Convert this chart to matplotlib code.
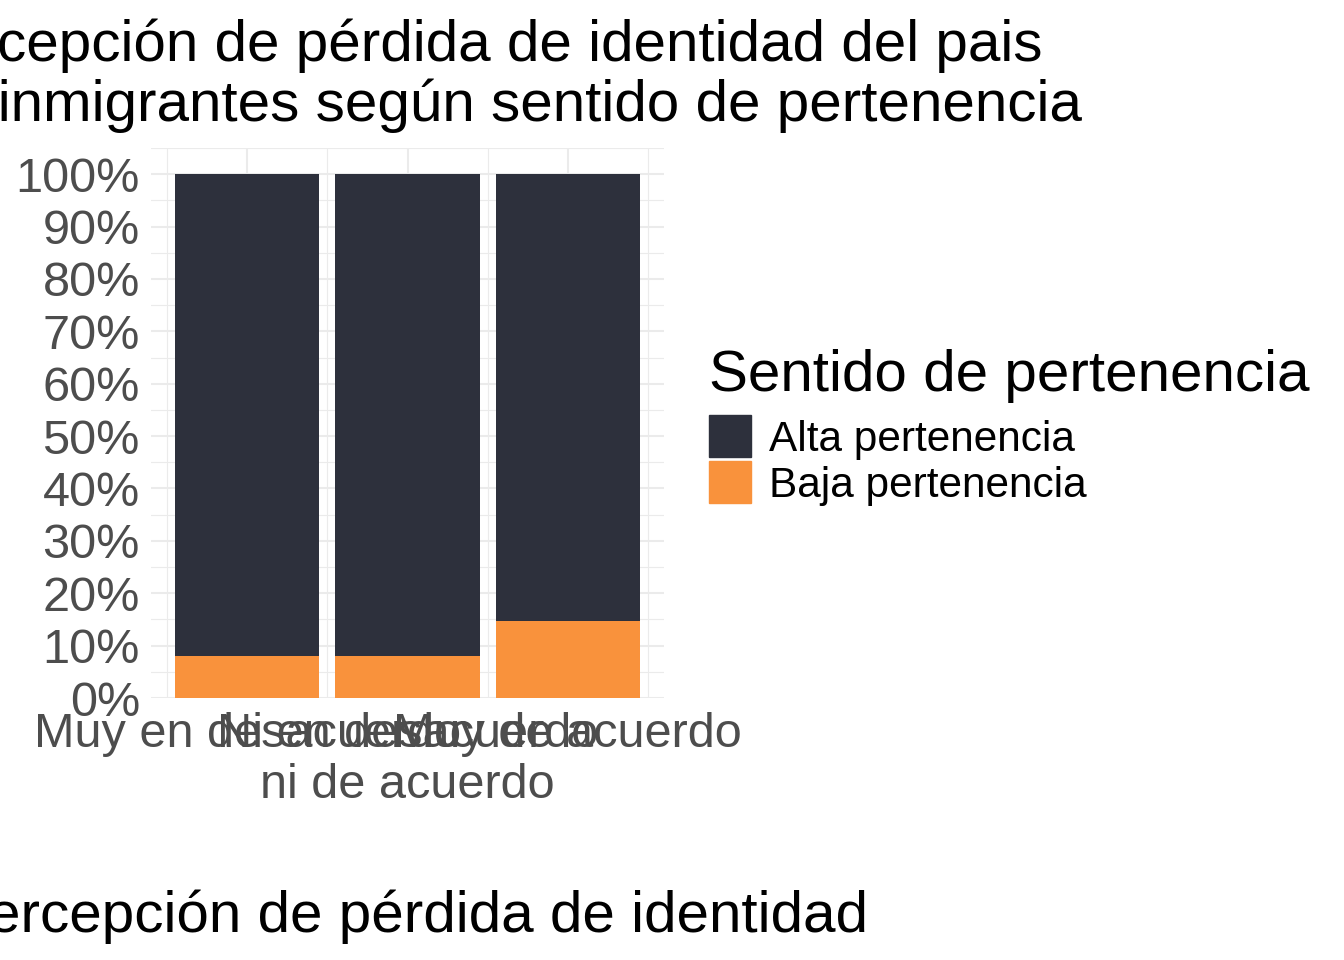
import matplotlib
matplotlib.use('Agg')
import matplotlib.pyplot as plt
from matplotlib.patches import Rectangle
import numpy as np

plt.rcParams['font.family'] = ['Liberation Sans', 'DejaVu Sans']

# data (shares per perception category)
categories = ['Muy en desacuerdo', 'Ni en desacuerdo\nni de acuerdo', 'Muy de acuerdo']
baja = [0.080, 0.080, 0.147]
alta = [0.920, 0.920, 0.853]
groups = ['Alta pertenencia', 'Baja pertenencia']
colors = ['#2D303C', '#F9923C']
yticks = np.arange(0, 1.01, 0.1)
ytick_labels = ['%d%%' % round(v * 100) for v in yticks]

W, H = 1344, 960
fig = plt.figure(figsize=(W / 100, H / 100), dpi=100)

def fx(px):
    return px / W

def fy(py):
    return 1 - py / H

ax = fig.add_axes([fx(151), fy(698), fx(664) - fx(151), fy(148) - fy(698)])
x = np.arange(1, len(categories) + 1)
ax.bar(x, baja, width=0.9, color=colors[1], zorder=3)
ax.bar(x, alta, bottom=baja, width=0.9, color=colors[0], zorder=3)

ax.set_xlim(0.4, 3.6)
ax.set_ylim(0, 1.05)
ax.set_xticks(x)
ax.set_xticklabels(categories, fontsize=35, color='#4D4D4D', linespacing=1.17)
ax.set_yticks(yticks)
ax.set_yticklabels(ytick_labels, fontsize=35, color='#4D4D4D')
ax.set_xticks([0.5, 1.5, 2.5, 3.5], minor=True)
ax.set_yticks(np.arange(0.05, 1.06, 0.1), minor=True)
ax.tick_params(axis='both', which='both', length=0)
ax.tick_params(axis='x', pad=10)
ax.tick_params(axis='y', pad=8)
ax.grid(which='major', color='#EBEBEB', lw=1.5, zorder=0)
ax.grid(which='minor', color='#EBEBEB', lw=0.8, zorder=0)
for s in ax.spines.values():
    s.set_visible(False)

# title (overflows the left edge as in the original)
fig.text(fx(1043), fy(61), 'Percepción de pérdida de identidad del pais',
         ha='right', va='baseline', fontsize=42)
fig.text(fx(1082), fy(121), 'por inmigrantes según sentido de pertenencia',
         ha='right', va='baseline', fontsize=42)

# x axis title
fig.text(fx(868), fy(932), 'Percepción de pérdida de identidad',
         ha='right', va='baseline', fontsize=42)

# legend
fig.text(fx(709), fy(391), 'Sentido de pertenencia', ha='left', va='baseline', fontsize=42)
for i, (g, c) in enumerate(zip(groups, colors)):
    top = 415 + i * 46
    fig.add_artist(Rectangle((fx(709), fy(top + 42)), fx(42), 42 / H,
                             transform=fig.transFigure, color=c))
    fig.text(fx(769), fy(top + 21), g, ha='left', va='center_baseline', fontsize=30.5)

fig.savefig('out.png', dpi=100)
